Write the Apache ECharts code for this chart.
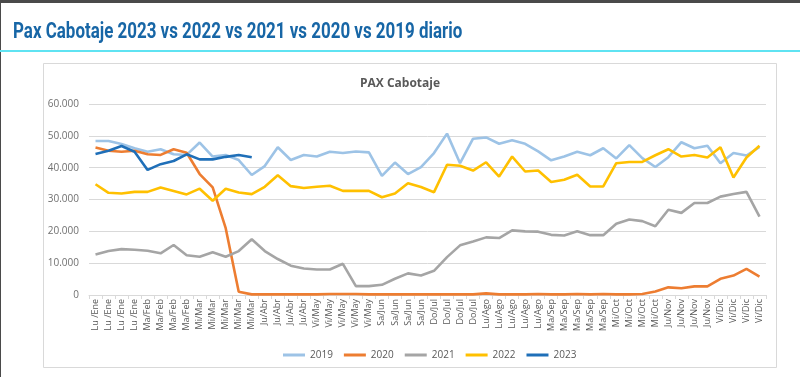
<!DOCTYPE html>
<html style='height: 100%'>
<head>
    <meta charset='utf-8'>
</head>
<body style='height: 100%; margin: 0; background: #fff'>
    <div id='container' style='width: 800px; height: 377px'></div>
    <script type='text/javascript' src='https://cdn.jsdelivr.net/npm/echarts@6/dist/echarts.min.js'></script>
    <script type="text/javascript">

// semanas (etiquetas del eje x)
var weeks = [
    'Lu /Ene','Lu /Ene','Lu /Ene','Lu /Ene',
    'Ma/Feb','Ma/Feb','Ma/Feb','Ma/Feb',
    'Mi/Mar','Mi/Mar','Mi/Mar','Mi/Mar','Mi/Mar',
    'Ju/Abr','Ju/Abr','Ju/Abr','Ju/Abr',
    'Vi/May','Vi/May','Vi/May','Vi/May','Vi/May',
    'Sa/Jun','Sa/Jun','Sa/Jun','Sa/Jun',
    'Do/Jul','Do/Jul','Do/Jul','Do/Jul',
    'Lu/Ago','Lu/Ago','Lu/Ago','Lu/Ago','Lu/Ago',
    'Ma/Sep','Ma/Sep','Ma/Sep','Ma/Sep','Ma/Sep',
    'Mi/Oct','Mi/Oct','Mi/Oct','Mi/Oct',
    'Ju/Nov','Ju/Nov','Ju/Nov','Ju/Nov',
    'Vi/Dic','Vi/Dic','Vi/Dic','Vi/Dic'
];

var pax2019 = [48400,48400,47400,46100,45000,45800,44200,44000,47900,43500,44000,42400,37700,40500,46400,42400,
    44000,43500,45000,44600,45100,44800,37400,41600,38000,40200,44600,50700,41400,49100,49500,47500,48600,47500,
    45100,42300,43500,45000,43900,46100,42900,47100,43000,40200,43300,48000,46100,46900,41400,44600,43800,46500];
var pax2020 = [46300,45300,45000,45300,44200,44000,45800,44700,38000,33800,21000,1000,200,200,200,200,200,200,
    300,300,300,200,200,200,200,200,200,200,200,200,500,200,200,200,300,200,200,300,200,300,200,200,300,1100,
    2400,2100,2700,2700,5100,6100,8200,5800];
var pax2021 = [12700,13800,14400,14200,13900,13100,15700,12500,12000,13400,12000,13800,17500,13800,11300,9200,
    8300,8000,8000,9800,2800,2800,3200,5100,6800,6100,7600,11900,15600,16800,18100,17900,20300,20000,19900,
    18900,18700,20000,18800,18800,22400,23700,23200,21600,26800,25800,28900,28900,30900,31700,32400,24600];
var pax2022 = [34800,32100,31900,32400,32400,33800,32700,31600,33400,29600,33400,32200,31700,34000,37600,34200,
    33600,34000,34300,32700,32700,32700,30700,31900,35100,33900,32300,40900,40600,39100,41700,37200,43500,38800,
    39100,35500,36200,37800,34100,34100,41400,41800,41800,43900,45800,43500,44000,43200,46400,36900,43200,46900];
var pax2023 = [44300,45300,46800,45000,39300,41100,42100,44200,42600,42600,43400,44000,43300];

var seriesNames = ['2019', '2020', '2021', '2022', '2023'];
var seriesData = [pax2019, pax2020, pax2021, pax2022, pax2023];
var colors = ['#9dc3e6', '#ed7d31', '#a5a5a5', '#ffc000', '#1f6fb8'];

var dom = document.getElementById("container");
var myChart = echarts.init(dom);

var series = [];
for (let i = 0; i < seriesNames.length; i++) {
    series.push({
        name: seriesNames[i],
        type: 'line',
        data: seriesData[i],
        symbol: 'none',
        color: colors[i],
        lineStyle: { width: 2.6, color: colors[i] },
        animation: false
    });
}

var option = {
    backgroundColor: '#fff',
    textStyle: { fontFamily: 'Open Sans' },
    title: {
        text: 'PAX Cabotaje',
        left: 'center',
        top: 73,
        textStyle: { fontSize: 12, fontWeight: 'bold', color: '#595959', fontFamily: 'Open Sans' }
    },
    legend: {
        data: seriesNames,
        icon: 'rect',
        left: 278,
        top: 345,
        itemWidth: 22,
        itemHeight: 3,
        itemGap: 11,
        textStyle: { fontSize: 10, color: '#595959' }
    },
    grid: { left: 89, right: 34, top: 104, bottom: 82 },
    xAxis: {
        type: 'category',
        data: weeks,
        boundaryGap: true,
        axisLine: { lineStyle: { color: '#d9d9d9' } },
        axisTick: { show: true, length: 4, lineStyle: { color: '#d9d9d9' } },
        axisLabel: { rotate: 90, interval: 0, fontSize: 9, color: '#595959', margin: 4 }
    },
    yAxis: {
        type: 'value',
        min: 0,
        max: 60000,
        interval: 10000,
        axisLine: { show: false },
        axisTick: { show: false },
        axisLabel: {
            fontSize: 10, color: '#707070', margin: 10,
            formatter: function (v) { return v === 0 ? '0' : (v / 1000) + '.000'; }
        },
        splitLine: { lineStyle: { color: '#d9d9d9' } }
    },
    graphic: [
        { type: 'rect', shape: { x: 0, y: 0, width: 800, height: 3 }, style: { fill: '#4a4a4a' } },
        { type: 'rect', shape: { x: 0, y: 0, width: 1, height: 377 }, style: { fill: '#4a4a4a' } },
        {
            type: 'text', x: 13, y: 32, scaleX: 0.77,
            style: {
                text: 'Pax Cabotaje 2023 vs 2022 vs 2021 vs 2020 vs 2019 diario',
                font: 'bold 22px Roboto', fill: '#1766a6', verticalAlign: 'middle'
            }
        },
        { type: 'rect', shape: { x: 0, y: 50, width: 800, height: 2 }, style: { fill: '#5fe3f2' } },
        {
            type: 'rect', shape: { x: 43.5, y: 63.5, width: 733, height: 304 },
            style: { fill: null, stroke: '#d9d9d9', lineWidth: 1 }, z: -1
        }
    ],
    series: series
};

myChart.setOption(option);
    </script>
</body>
</html>
